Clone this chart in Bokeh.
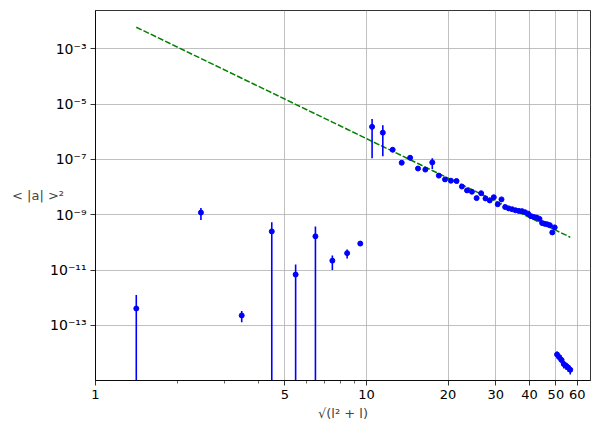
import numpy as np
from bokeh.plotting import figure
from bokeh.models import FixedTicker, ColumnDataSource
from bokeh.embed import file_html
from bokeh.resources import INLINE

# multipole index l (x axis is sqrt(l^2 + l))
l_values = list(range(1, 57))

# mean squared amplitude <|a|>^2
power = [
    4.1e-13, 1.2e-9, 2.3e-13, 2.5e-10, 6.9e-12, 1.66e-10, 2.2e-11, 4.1e-11, 9.1e-11,
    1.51e-6, 9.3e-7, 2.24e-7, 7.6e-8, 1.15e-7, 4.7e-8, 4.3e-8, 7.8e-8, 2.6e-8, 1.9e-8,
    1.7e-8, 1.66e-8, 1.05e-8, 7.6e-9, 6.8e-9, 4.0e-9, 6.0e-9, 3.9e-9, 3.3e-9, 4.3e-9,
    2.4e-9, 3.6e-9, 1.9e-9, 1.7e-9, 1.58e-9, 1.45e-9, 1.38e-9, 1.35e-9, 1.23e-9, 1.1e-9,
    8.9e-10, 8.3e-10, 7.9e-10, 7.1e-10, 5.0e-10, 4.7e-10, 4.5e-10, 4.2e-10, 2.3e-10, 3.5e-10,
    8.9e-15, 7.1e-15, 5.6e-15, 4.0e-15, 3.5e-15, 3.0e-15, 2.5e-15,
]

# symmetric error bars
power_err = [
    8.5e-13, 5.5e-10, 1.0e-13, 2.9e-10, 8.9e-12, 2.1e-10, 1.2e-11, 1.5e-11, 1.2e-11,
    1.4e-6, 8.0e-7, 1.8e-8, 6.0e-9, 9.0e-9, 3.8e-9, 3.4e-9, 3.3e-8, 2.1e-9, 1.5e-9,
    1.4e-9, 1.3e-9, 8.0e-10, 6.0e-10, 5.4e-10, 3.2e-10, 4.8e-10, 3.1e-10, 2.6e-10, 3.4e-10,
    1.9e-10, 2.9e-10, 1.5e-10, 1.4e-10, 1.3e-10, 1.2e-10, 1.1e-10, 1.1e-10, 1.0e-10, 9.0e-11,
    7.0e-11, 6.6e-11, 6.3e-11, 5.7e-11, 4.0e-11, 3.8e-11, 3.6e-11, 3.4e-11, 1.8e-11, 2.8e-11,
    2.5e-15, 2.0e-15, 1.6e-15, 1.2e-15, 1.0e-15, 0.9e-15, 0.8e-15,
]

# power-law fit shown as the dashed line: y = A * x**k
fit_amplitude = 0.0311
fit_exponent = -4.74

x_major_ticks = [1, 5, 10, 20, 30, 40, 50, 60]
x_minor_ticks = [2, 3, 4, 6, 7, 8, 9]
y_major_ticks = [1e-13, 1e-11, 1e-9, 1e-7, 1e-5, 1e-3]
y_tick_labels = ["10⁻¹³", "10⁻¹¹", "10⁻⁹", "10⁻⁷", "10⁻⁵", "10⁻³"]

l_arr = np.array(l_values, dtype=float)
x = np.sqrt(l_arr ** 2 + l_arr)
y = np.array(power)
err = np.array(power_err)
upper = y + err
lower_raw = y - err
lower = np.where(lower_raw > 0, lower_raw, 1e-30)

src = ColumnDataSource(dict(x=x, y=y, upper=upper, lower=lower))
fit_src = ColumnDataSource(dict(x=x, y=fit_amplitude * x ** fit_exponent))

FONT = "DejaVu Sans"

p = figure(
    x_axis_type="log", y_axis_type="log",
    x_range=(1, 67.1), y_range=(10 ** -14.99, 10 ** -1.617),
    frame_width=495, frame_height=370,
    min_border_left=95, min_border_right=10, min_border_top=10, min_border_bottom=50,
    output_backend="svg", toolbar_location=None,
    background_fill_color="white", border_fill_color="white",
)

p.outline_line_color = "black"
p.outline_line_width = 0.8

p.xaxis.ticker = FixedTicker(ticks=x_major_ticks, minor_ticks=x_minor_ticks)
p.yaxis.ticker = FixedTicker(ticks=y_major_ticks, minor_ticks=[])
p.xaxis.major_label_overrides = {float(t): str(t) for t in x_major_ticks}
p.yaxis.major_label_overrides = {t: s for t, s in zip(y_major_ticks, y_tick_labels)}

for ax in (p.xaxis[0], p.yaxis[0]):
    ax.axis_line_color = "black"
    ax.axis_line_width = 0.8
    ax.major_tick_line_color = "black"
    ax.minor_tick_line_color = "black"
    ax.major_tick_line_width = 0.8
    ax.minor_tick_line_width = 0.6
    ax.major_tick_out = 5
    ax.major_tick_in = 0
    ax.minor_tick_out = 3
    ax.minor_tick_in = 0
    ax.major_label_text_font = FONT
    ax.major_label_text_font_size = "13px"
    ax.major_label_text_color = "black"
    ax.major_label_standoff = 4

p.yaxis.major_label_text_font_size = "14px"

p.xaxis.axis_label = "√(l² + l)"
p.xaxis.axis_label_text_font = FONT
p.xaxis.axis_label_text_font_size = "13px"
p.xaxis.axis_label_text_font_style = "normal"
p.xaxis.axis_label_standoff = 4

p.yaxis.axis_label = "< |a| >²"
p.yaxis.axis_label_orientation = "horizontal"
p.yaxis.axis_label_text_font = FONT
p.yaxis.axis_label_text_font_size = "13px"
p.yaxis.axis_label_text_font_style = "normal"
p.yaxis.axis_label_standoff = -17

p.xgrid.ticker = FixedTicker(ticks=x_major_ticks)
p.ygrid.ticker = FixedTicker(ticks=y_major_ticks)
p.grid.grid_line_color = "#b0b0b0"
p.grid.grid_line_width = 0.8

p.line("x", "y", source=fit_src, line_color="#008000", line_width=1.5, line_dash="6 2")
p.segment(x0="x", y0="lower", x1="x", y1="upper", source=src, line_color="#0000ff", line_width=1.6)
p.scatter("x", "y", source=src, size=5, fill_color="#0000ff", line_color="#0000ff")

open("out.html", "w").write(file_html(p, INLINE))
